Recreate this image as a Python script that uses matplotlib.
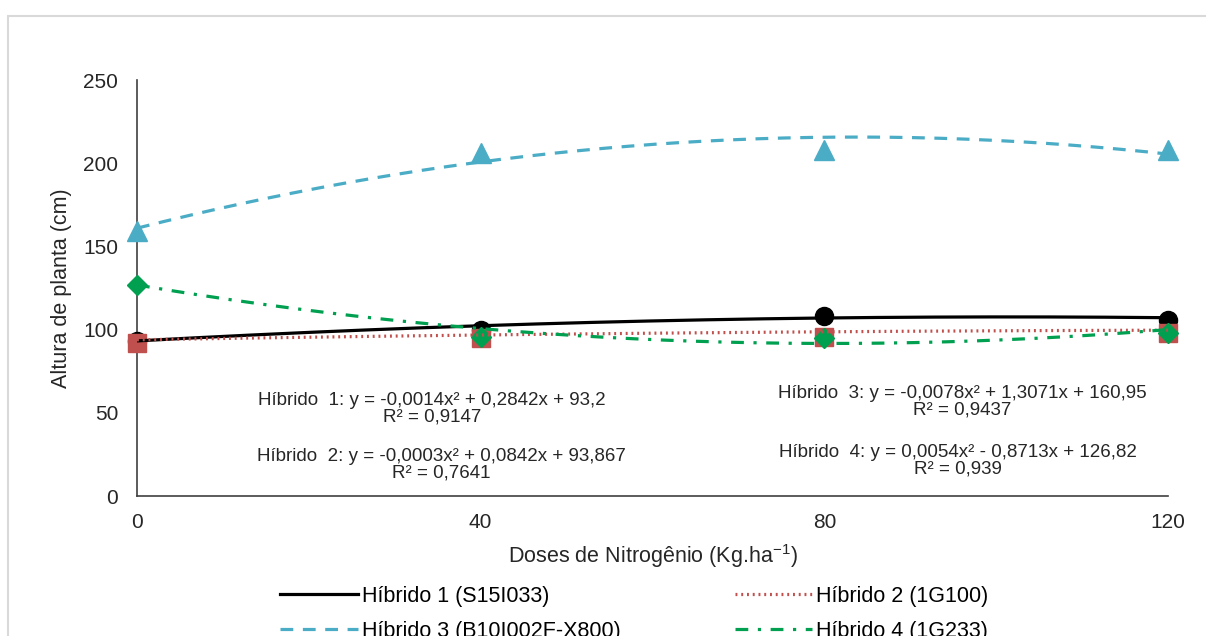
import numpy as np
import matplotlib
matplotlib.use("Agg")
import matplotlib.pyplot as plt
from matplotlib.patches import Rectangle

plt.rcParams['font.family'] = ['Liberation Sans', 'DejaVu Sans']

doses = [0, 40, 80, 120]
h1 = [93, 100, 108, 106]
h2 = [92, 95, 95.5, 98]
h3 = [159, 206, 208, 208]
h4 = [127, 95.5, 95, 98]

coef1 = [-0.0014, 0.2842, 93.2]
coef2 = [-0.0003, 0.0842, 93.867]
coef3 = [-0.0078, 1.3071, 160.95]
coef4 = [0.0054, -0.8713, 126.82]

labels = ["Híbrido 1 (S15I033)", "Híbrido 2 (1G100)",
          "Híbrido 3 (B10I002F-X800)", "Híbrido 4 (1G233)"]
eq_texts = [
    "Híbrido  1: y = -0,0014x² + 0,2842x + 93,2\nR² = 0,9147",
    "Híbrido  2: y = -0,0003x² + 0,0842x + 93,867\nR² = 0,7641",
    "Híbrido  3: y = -0,0078x² + 1,3071x + 160,95\nR² = 0,9437",
    "Híbrido  4: y = 0,0054x² - 0,8713x + 126,82\nR² = 0,939",
]

W, H = 1206, 636
fig = plt.figure(figsize=(W/100, H/100), dpi=100)
fig.patches.append(Rectangle((8/W, -0.1), 1.2, 1 - 16/H + 0.1, transform=fig.transFigure,
                             fill=False, edgecolor='#D9D9D9', linewidth=1.5))
ax = fig.add_axes([137/W, 1 - 496/H, (1168-137)/W, (496-80)/H])

c1, c2, c3, c4 = 'black', '#C0504D', '#4BACC6', '#00A050'
xs = np.linspace(0, 120, 200)

series = [
    (h1, coef1, c1, 'o', 13),
    (h2, coef2, c2, 's', 13),
    (h3, coef3, c3, '^', 14),
    (h4, coef4, c4, 'D', 10),
]
for i, (vals, coef, col, mk, ms) in enumerate(series):
    ax.plot(doses, vals, linestyle='none', marker=mk, color=col, markersize=ms,
            clip_on=False, zorder=3 + (1 if i == 1 else 0) + (2 if i == 3 else 0))

styles = ['-', (0, (0.6, 1.2)), (0, (4, 3)), (0, (4, 3, 1, 3))]
handles = []
for i, (vals, coef, col, mk, ms) in enumerate(series):
    ln, = ax.plot(xs, np.polyval(coef, xs), linestyle=styles[i], color=col,
                  linewidth=2.3, label=labels[i], zorder=4 + i)
    handles.append(ln)

ax.set_xlim(0, 120)
ax.set_ylim(0, 250)
ax.set_xticks(doses)
ax.set_yticks([0, 50, 100, 150, 200, 250])
ax.tick_params(length=0, labelsize=15, colors='#262626')
ax.tick_params(axis='x', pad=12.5)
ax.tick_params(axis='y', pad=13.5)
for s in ['top', 'right']:
    ax.spines[s].set_visible(False)
for s in ['left', 'bottom']:
    ax.spines[s].set_color('#404040')
    ax.spines[s].set_linewidth(1.2)

ax.set_xlabel("Doses de Nitrogênio (Kg.ha$^{\\mathregular{-1}}$)", fontsize=15.5,
              color='#262626', labelpad=7)
ax.set_ylabel("Altura de planta (cm)", fontsize=15.5, color='#262626', labelpad=8)

eq_pos = [(34.3, 52.6), (35.4, 18.6), (96.1, 56.5), (95.6, 21.0)]
for (x, y), t in zip(eq_pos, eq_texts):
    ax.text(x, y, t, ha='center', va='center', multialignment='center', fontsize=13.5,
            color='#262626', linespacing=0.95)

order = [0, 2, 1, 3]
fig.legend(handles=[handles[k] for k in order], labels=[labels[k] for k in order],
           ncol=2, loc='upper left',
           bbox_to_anchor=(280/W, 1 - 586/H), frameon=False, fontsize=15.5,
           handlelength=3.6, columnspacing=5.3, handletextpad=0.2, labelspacing=0.65,
           borderaxespad=0, borderpad=0)

fig.savefig("out.png", dpi=100, facecolor='white')
